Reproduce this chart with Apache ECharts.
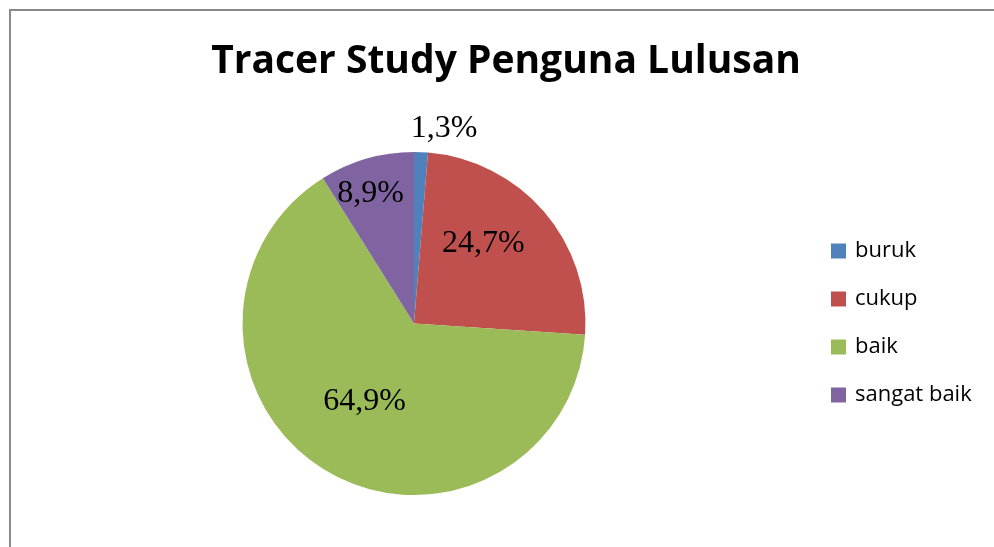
<!DOCTYPE html>
<html>
<head>
<meta charset="utf-8">
<script src="https://cdn.jsdelivr.net/npm/echarts@6/dist/echarts.min.js"></script>
<style>
html,body{margin:0;padding:0;background:#fff;}
#chart{width:994px;height:547px;}
</style>
</head>
<body>
<div id="chart"></div>
<script>
const categories = ['buruk', 'cukup', 'baik', 'sangat baik'];
const values = [1.3, 24.7, 64.9, 8.9];
const colors = ['#4F81BD', '#C0504D', '#9BBB59', '#8064A2'];
// per-label nudges (px) from the inside anchor, to mimic Excel's placement
const labelShift = [[26.5, -106], [2, -22], [-4, 2], [-19, -45]];

const chart = echarts.init(document.getElementById('chart'), null, {renderer: 'canvas'});
const option = {
  backgroundColor: '#ffffff',
  animation: false,
  graphic: [{
    type: 'rect',
    shape: {x: 10, y: 10, width: 1100, height: 700},
    style: {fill: 'none', stroke: '#8a8a8a', lineWidth: 2},
    silent: true
  }],
  title: {
    text: 'Tracer Study Penguna Lulusan',
    left: 501,
    top: 37,
    textAlign: 'center',
    textStyle: {
      fontFamily: 'Open Sans',
      fontWeight: 'bold',
      fontSize: 39,
      color: '#000'
    }
  },
  legend: {
    orient: 'vertical',
    left: 831,
    top: 240,
    padding: 0,
    itemWidth: 15,
    itemHeight: 15,
    itemGap: 26,
    icon: 'rect',
    data: categories,
    textStyle: {
      fontFamily: 'Open Sans',
      fontSize: 22,
      color: '#000',
      lineHeight: 22,
      padding: [0, 0, 0, 4]
    }
  },
  series: [{
    type: 'pie',
    center: [414, 323.5],
    radius: 171.5,
    startAngle: 90,
    clockwise: true,
    avoidLabelOverlap: false,
    itemStyle: {borderWidth: 0},
    label: {
      show: true,
      position: 'inside',
      fontFamily: 'Liberation Serif',
      fontSize: 32,
      color: '#000',
      formatter: function (p) { return String(p.value).replace('.', ',') + '%'; }
    },
    labelLine: {show: false},
    labelLayout: function (params) {
      const s = labelShift[params.dataIndex];
      return {dx: s[0], dy: s[1]};
    },
    emphasis: {disabled: true},
    data: categories.map(function (c, i) {
      return {name: c, value: values[i], itemStyle: {color: colors[i]}};
    })
  }]
};
chart.setOption(option);
</script>
</body>
</html>
